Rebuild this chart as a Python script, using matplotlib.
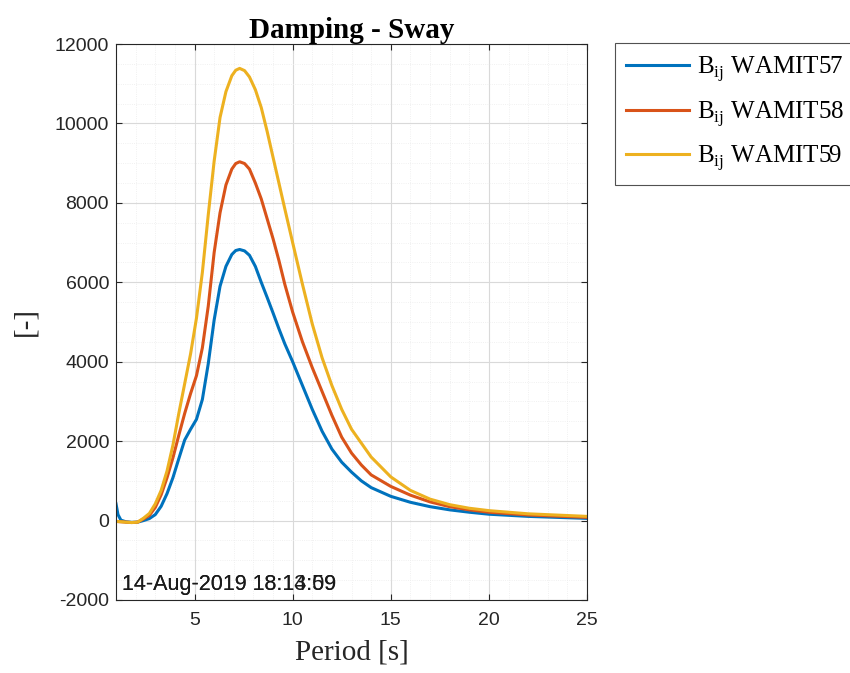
import matplotlib
matplotlib.use('Agg')
import matplotlib.pyplot as plt
from matplotlib.ticker import MultipleLocator

# period [s]
period = [1, 1.1, 1.25, 1.5, 1.8, 2.1, 2.4, 2.7, 3, 3.3, 3.6, 3.9, 4.2, 4.5, 4.8,
          5.1, 5.4, 5.7, 6, 6.3, 6.6, 6.9, 7.1, 7.3, 7.55, 7.8, 8.1, 8.4, 8.7, 9,
          9.3, 9.6, 10, 10.5, 11, 11.5, 12, 12.5, 13, 13.5, 14, 15, 16, 17, 18,
          19, 20, 22, 25]

b57 = [420, 150, 10, -30, -45, -40, 0, 50, 150, 360, 680, 1080, 1560, 2030, 2300,
       2550, 3050, 3950, 5050, 5900, 6400, 6700, 6800, 6826, 6790, 6680, 6400,
       6000, 5620, 5230, 4830, 4450, 4000, 3400, 2800, 2250, 1800, 1470, 1220,
       1000, 830, 610, 460, 350, 270, 210, 160, 105, 55]

b58 = [-20, -25, -30, -40, -50, -40, 40, 130, 330, 650, 1080, 1580, 2150, 2700,
       3200, 3650, 4350, 5400, 6750, 7750, 8450, 8850, 8990, 9035, 8990, 8850,
       8500, 8100, 7600, 7100, 6550, 5950, 5250, 4500, 3850, 3250, 2650, 2100,
       1700, 1400, 1150, 860, 640, 470, 350, 270, 210, 140, 80]

b59 = [-20, -25, -30, -40, -50, -40, 60, 180, 420, 760, 1250, 1900, 2700, 3450,
       4200, 5100, 6250, 7700, 9050, 10150, 10800, 11200, 11340, 11386, 11330,
       11170, 10850, 10400, 9800, 9150, 8500, 7850, 7000, 5950, 4950, 4100,
       3400, 2800, 2300, 1950, 1600, 1100, 760, 540, 400, 310, 250, 170, 105]

labels = [r'B$_{\rm ij}$ WAMIT57', r'B$_{\rm ij}$ WAMIT58', r'B$_{\rm ij}$ WAMIT59']
colors = ['#0072BD', '#D95319', '#EDB120']
stamps = ['14-Aug-2019 18:13:59', '14-Aug-2019 18:14:09']

plt.rcParams['mathtext.fontset'] = 'custom'
plt.rcParams['mathtext.rm'] = 'Liberation Serif'
plt.rcParams['axes.unicode_minus'] = False

fig = plt.figure(figsize=(8.5, 6.73), dpi=100)
ax = fig.add_axes([0.1365, 0.1085, 0.5541, 0.8261])

for y, lab, c in zip([b57, b58, b59], labels, colors):
    ax.plot(period, y, color=c, lw=2.2, label=lab, solid_joinstyle='round')

ax.set_xlim(1, 25)
ax.set_ylim(-2000, 12000)
ax.set_xticks([5, 10, 15, 20, 25])
ax.set_yticks(range(-2000, 12001, 2000))
ax.xaxis.set_minor_locator(MultipleLocator(1))
ax.yaxis.set_minor_locator(MultipleLocator(500))

ax.grid(True, which='major', color='#d9d9d9', lw=0.8)
ax.grid(True, which='minor', color='#ececec', lw=0.6, ls=':')
ax.set_axisbelow(True)

ax.tick_params(which='both', direction='in', top=True, right=True, colors='#262626')
ax.tick_params(which='major', length=4, labelsize=14)
ax.tick_params(axis='x', which='major', pad=9)
ax.tick_params(axis='y', which='major', pad=5)
ax.tick_params(which='minor', length=0)
for lbl in ax.get_xticklabels() + ax.get_yticklabels():
    lbl.set_fontfamily('Liberation Sans')
for s in ax.spines.values():
    s.set_color('#262626')
    s.set_linewidth(0.8)

ax.set_title('Damping - Sway', fontfamily='Liberation Serif', fontweight='bold',
             fontsize=21, pad=3)
ax.set_xlabel('Period [s]', fontfamily='Liberation Serif', fontsize=21,
              color='#262626', labelpad=7)
ax.set_ylabel('[-]', fontfamily='Liberation Serif', fontsize=21, color='#262626',
              labelpad=12)

for st in stamps:
    ax.text(0.013, 0.018, st, transform=ax.transAxes, fontfamily='Liberation Sans',
            fontsize=15.5, color='#1a1a1a', va='baseline', ha='left')

leg = fig.legend(loc='upper left', bbox_to_anchor=(0.7235, 0.936),
                 prop={'family': 'Liberation Serif', 'size': 18},
                 frameon=True, fancybox=False, edgecolor='#262626',
                 handlelength=2.5, handletextpad=0.35, borderpad=0.45,
                 labelspacing=0.6, borderaxespad=0)
leg.get_frame().set_linewidth(0.8)

fig.savefig('out.png', dpi=100)
